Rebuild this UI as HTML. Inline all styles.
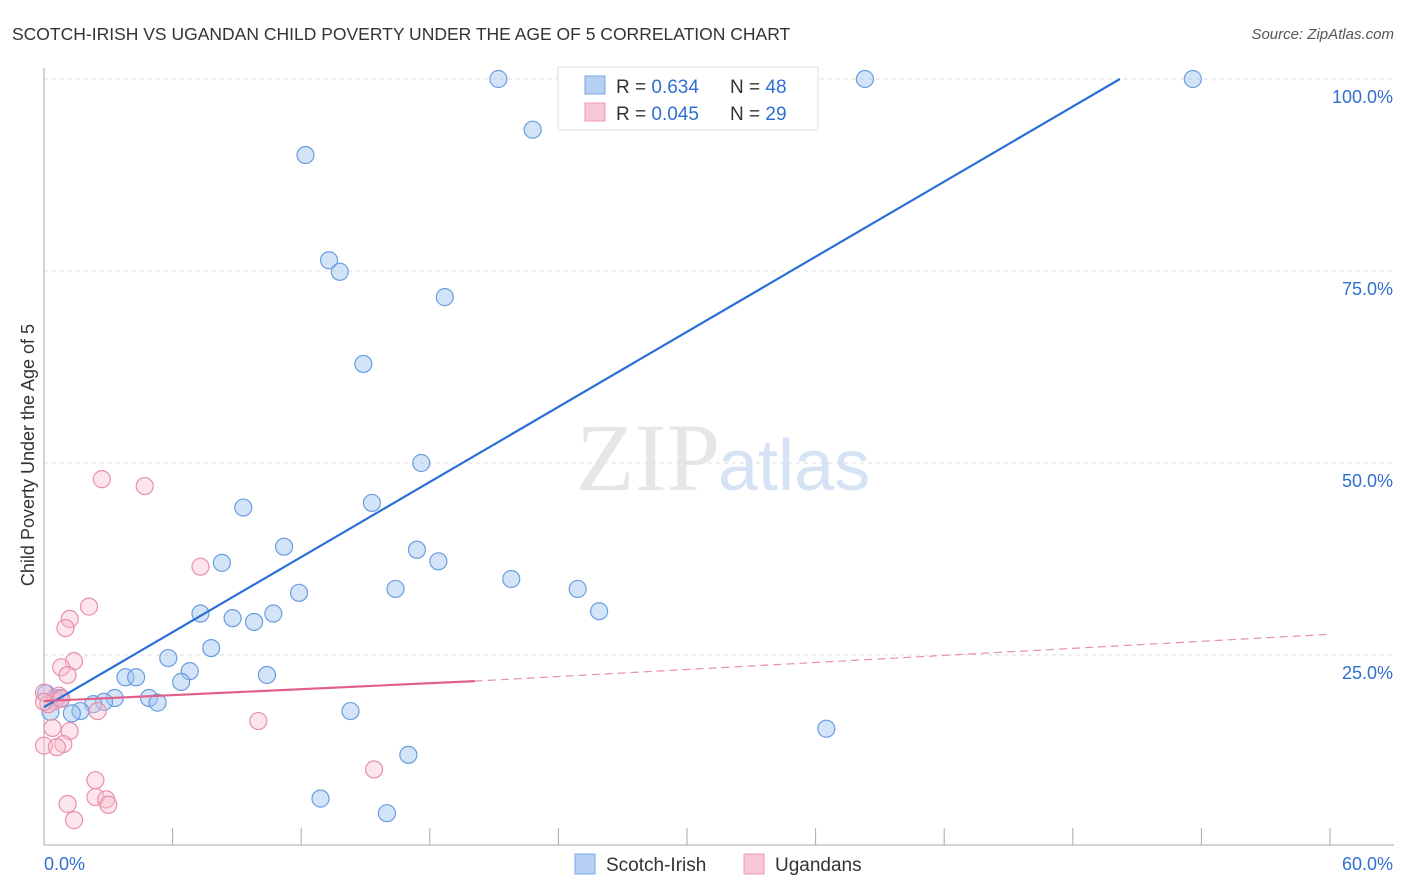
<!DOCTYPE html>
<html><head><meta charset="utf-8"><style>
body{margin:0;background:#fff;font-family:"Liberation Sans",sans-serif}
svg{display:block}
</style></head><body>
<svg id="chart" width="1406" height="892" xmlns="http://www.w3.org/2000/svg">
<text x="12" y="40" font-size="17.5" fill="#333">SCOTCH-IRISH VS UGANDAN CHILD POVERTY UNDER THE AGE OF 5 CORRELATION CHART</text>
<text x="1394" y="39" font-size="15" fill="#555" font-style="italic" text-anchor="end">Source: ZipAtlas.com</text>
<text x="720" y="490" font-size="96" fill="#e6e6e6" font-family="Liberation Serif,serif" text-anchor="end">ZIP</text>
<text x="718" y="490" font-size="72" fill="#d5e3f5">atlas</text>
<text transform="translate(34,455) rotate(-90)" font-size="18" fill="#333" text-anchor="middle">Child Poverty Under the Age of 5</text>
<g id="grid"></g><g id="axes"></g><g id="marks"></g>
<g>
<rect x="558" y="67" width="260" height="63" fill="#fff" stroke="#ddd"/>
<rect x="585" y="76" width="20" height="18" fill="#b5d0f3" stroke="#7aa6e0"/>
<rect x="585" y="103" width="20" height="18" fill="#f9c8d6" stroke="#eb98b0"/>
<text x="616" y="93" font-size="19" fill="#333">R = <tspan fill="#2f6fd0">0.634</tspan></text>
<text x="730" y="93" font-size="19" fill="#333">N = <tspan fill="#2f6fd0">48</tspan></text>
<text x="616" y="120" font-size="19" fill="#333">R = <tspan fill="#2f6fd0">0.045</tspan></text>
<text x="730" y="120" font-size="19" fill="#333">N = <tspan fill="#2f6fd0">29</tspan></text>
</g>
<g>
<rect x="575" y="854" width="20" height="20" fill="#b5d0f3" stroke="#7aa6e0"/>
<text x="606" y="871" font-size="19" fill="#333">Scotch-Irish</text>
<rect x="744" y="854" width="20" height="20" fill="#f9c8d6" stroke="#eb98b0"/>
<text x="775" y="871" font-size="19" fill="#333">Ugandans</text>
</g>
</svg>
<script>
const xTicks=[0,6,12,18,24,30,36,42,48,54,60];
const yTicks=[25,50,75,100];
const blueX=[21.2,38.3,53.6,22.8,12.2,13.3,13.8,18.7,14.9,17.6,9.3,15.3,11.2,17.4,8.3,18.4,11.9,21.8,16.4,24.9,7.3,8.8,9.8,10.7,25.9,7.8,5.8,6.8,6.4,3.8,4.3,10.4,4.9,5.3,3.3,2.8,2.3,1.7,1.3,0.5,0.3,14.3,36.5,17.0,12.9,16.0,0.1,0.8];
const blueY=[100,100,100,93.4,90.1,76.4,74.9,71.6,62.9,50.0,44.2,44.8,39.1,38.7,37.0,37.2,33.1,34.9,33.6,33.6,30.4,29.8,29.3,30.4,30.7,25.9,24.6,22.9,21.5,22.1,22.1,22.4,19.4,18.8,19.4,18.9,18.6,17.7,17.4,19.4,17.6,17.7,15.4,12.0,6.3,4.4,20.0,19.4];
const pinkX=[2.7,4.7,7.3,2.1,1.2,1.0,1.4,0.8,1.1,0.0,0.7,0.5,0.2,2.5,10.0,0.4,1.2,0.0,0.9,0.6,15.4,2.4,2.4,2.9,3.0,1.1,1.4,0.0,0.8];
const pinkY=[47.9,47.0,36.5,31.3,29.7,28.5,24.2,23.4,22.4,20.1,19.7,19.0,18.6,17.7,16.4,15.5,15.1,13.2,13.4,13.0,10.1,8.7,6.5,6.2,5.5,5.6,3.5,18.9,19.3];
const blueTrend=[0.0,18.2,50.2,100];
const pinkTrend=[0.0,19.0,20.1,21.6,60,27.7];
const X=v=>44+v*(1330-44)/60, Y=v=>847-v*7.68;
const NS="http://www.w3.org/2000/svg";
function mk(p,t,a){const e=document.createElementNS(NS,t);for(const k in a)e.setAttribute(k,a[k]);document.getElementById(p).appendChild(e);return e;}
yTicks.forEach(t=>{
 const l=mk('grid','line',{x1:44,x2:1394,y1:Y(t),y2:Y(t),stroke:'#ddd','stroke-dasharray':'4,4'});
 
 
 const tx=mk('grid','text',{x:1393,y:Y(t)+24,'font-size':18,fill:'#2f6fd0','text-anchor':'end'});tx.textContent=t.toFixed(1)+'%';
 
 
});
mk('axes','line',{x1:44,x2:44,y1:68,y2:845,stroke:'#aaa'});
const xa=mk('axes','line',{x1:44,x2:1394,y1:845,y2:845,stroke:'#aaa'});


xTicks.forEach(t=>{const l=mk('axes','line',{x1:X(t),x2:X(t),y1:828,y2:845,stroke:'#aaa'});
 
 });
[[0,44,'start'],[60,1393,'end']].forEach(([v,x,a])=>{const t=mk('axes','text',{x:x,y:870,'font-size':18,fill:'#2f6fd0','text-anchor':a});t.textContent=v.toFixed(1)+'%';
 
 });
blueX.forEach((x,i)=>{const c=mk('marks','circle',{cx:X(x),cy:Y(blueY[i]),r:8.5,fill:'rgba(160,195,240,0.45)',stroke:'#6a9de0','stroke-width':1.2});
 
 });
pinkX.forEach((x,i)=>{const c=mk('marks','circle',{cx:X(x),cy:Y(pinkY[i]),r:8.5,fill:'rgba(248,190,205,0.4)',stroke:'#e890aa','stroke-width':1.2});
 
 });
const bl=mk('marks','line',{x1:X(blueTrend[0]),y1:Y(blueTrend[1]),x2:X(blueTrend[2]),y2:Y(blueTrend[3]),stroke:'#2a6fd6','stroke-width':2.2});


const pl=mk('marks','line',{x1:X(pinkTrend[0]),y1:Y(pinkTrend[1]),x2:X(pinkTrend[2]),y2:Y(pinkTrend[3]),stroke:'#e0608a','stroke-width':2.2});


const pd=mk('marks','line',{x1:X(pinkTrend[2]),y1:Y(pinkTrend[3]),x2:X(pinkTrend[4]),y2:Y(pinkTrend[5]),stroke:'#e890aa','stroke-width':1.2,'stroke-dasharray':'8,5'});


</script>
</body></html>
